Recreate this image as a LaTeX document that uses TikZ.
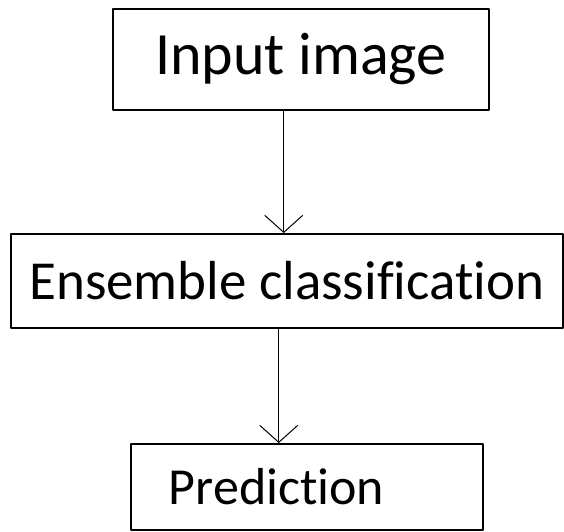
\documentclass[tikz,border=0pt]{standalone}
\usepackage{fontspec}
\setmainfont{Carlito}[Ligatures=NoCommon]
\usetikzlibrary{arrows.meta,positioning}
\begin{document}
\begin{tikzpicture}[x=1pt,y=1pt,line join=round,
	blk/.style={draw,line width=1.5pt,inner sep=0pt,anchor=north west},
	>={Straight Barb[length=17pt,width=38pt]}]
	\useasboundingbox (0,0) rectangle (564,-531);
	\node[blk,minimum width=376pt,minimum height=101pt,font=\fontsize{60}{72}\selectfont] (inp) at (112,-8) {Input image};
	\node[blk,minimum width=552pt,minimum height=94pt,font=\fontsize{55}{66}\selectfont] (ens) at (10,-233) {Ensemble classification};
	\node[blk,minimum width=352pt,minimum height=86pt,text width=276pt,align=left,inner xsep=38pt,font=\fontsize{52}{62}\selectfont] (pred) at (130,-443) {Prediction};
	% arrows, a bit left of the box centres
	\draw[->,line width=1pt] ([xshift=-17pt]inp.south) -- ([xshift=-17pt]inp.south |- ens.north);
	\draw[->,line width=1pt] ([xshift=-8pt]ens.south) -- ([xshift=-8pt]ens.south |- pred.north);
\end{tikzpicture}
\end{document}
